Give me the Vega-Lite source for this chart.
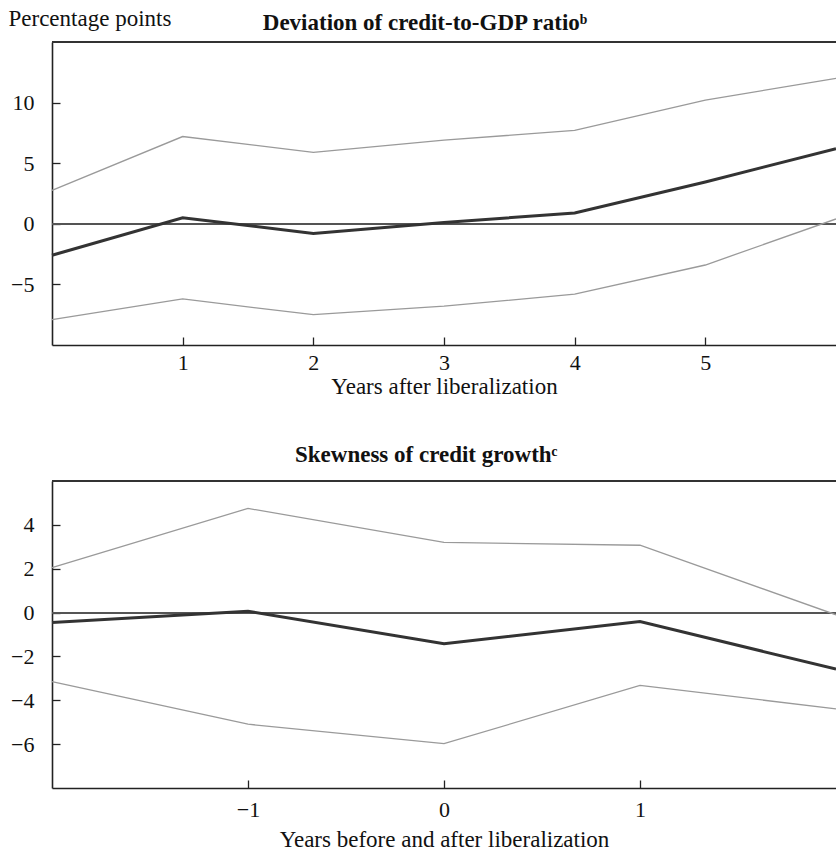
{
  "$schema": "https://vega.github.io/schema/vega-lite/v6.json",
  "background": "white",
  "padding": {"left": 8, "top": 7, "right": 0, "bottom": 0},
  "spacing": 46,
  "config": {
    "font": "Liberation Serif",
    "view": {"stroke": null},
    "axis": {
      "grid": false,
      "domainColor": "#222",
      "domainWidth": 1.6,
      "tickColor": "#222",
      "tickWidth": 1.3,
      "tickSize": -8,
      "labelFont": "Liberation Serif",
      "labelFontSize": 22,
      "labelColor": "#111",
      "titleFont": "Liberation Serif",
      "titleFontSize": 23,
      "titleFontWeight": "normal",
      "titleColor": "#111"
    },
    "title": {"font": "Liberation Serif", "fontSize": 23, "fontWeight": "bold", "color": "#111", "offset": 20, "anchor": "middle", "frame": "bounds"}
  },
  "datasets": {
    "top": [
      {"x": 0, "series": "upper", "y": 2.75},
      {"x": 1, "series": "upper", "y": 7.2},
      {"x": 2, "series": "upper", "y": 5.9},
      {"x": 3, "series": "upper", "y": 6.9},
      {"x": 4, "series": "upper", "y": 7.7},
      {"x": 5, "series": "upper", "y": 10.2},
      {"x": 6, "series": "upper", "y": 12.0},
      {"x": 0, "series": "mean", "y": -2.6},
      {"x": 1, "series": "mean", "y": 0.5},
      {"x": 2, "series": "mean", "y": -0.8},
      {"x": 3, "series": "mean", "y": 0.1},
      {"x": 4, "series": "mean", "y": 0.9},
      {"x": 5, "series": "mean", "y": 3.45},
      {"x": 6, "series": "mean", "y": 6.2},
      {"x": 0, "series": "lower", "y": -7.9},
      {"x": 1, "series": "lower", "y": -6.2},
      {"x": 2, "series": "lower", "y": -7.5},
      {"x": 3, "series": "lower", "y": -6.8},
      {"x": 4, "series": "lower", "y": -5.8},
      {"x": 5, "series": "lower", "y": -3.4},
      {"x": 6, "series": "lower", "y": 0.4}
    ],
    "bottom": [
      {"x": -2, "series": "upper", "y": 2.05},
      {"x": -1, "series": "upper", "y": 4.75},
      {"x": 0, "series": "upper", "y": 3.2},
      {"x": 1, "series": "upper", "y": 3.07},
      {"x": 2, "series": "upper", "y": -0.1},
      {"x": -2, "series": "mean", "y": -0.45},
      {"x": -1, "series": "mean", "y": 0.06},
      {"x": 0, "series": "mean", "y": -1.42},
      {"x": 1, "series": "mean", "y": -0.41},
      {"x": 2, "series": "mean", "y": -2.58},
      {"x": -2, "series": "lower", "y": -3.15},
      {"x": -1, "series": "lower", "y": -5.09},
      {"x": 0, "series": "lower", "y": -5.98},
      {"x": 1, "series": "lower", "y": -3.32},
      {"x": 2, "series": "lower", "y": -4.39}
    ]
  },
  "vconcat": [
    {
      "width": 784,
      "height": 303,
      "title": {"text": "Deviation of credit-to-GDP ratioᵇ", "dy": 48},
      "data": {"name": "top"},
      "encoding": {
        "x": {"field": "x", "type": "quantitative", "scale": {"domain": [0, 6], "nice": false},
              "axis": {"values": [1, 2, 3, 4, 5], "title": "Years after liberalization", "labelPadding": 15, "titlePadding": 2}},
        "y": {"field": "y", "type": "quantitative", "scale": {"domain": [-10, 15], "nice": false},
              "axis": {"values": [-5, 0, 5, 10], "title": "Percentage points", "titleAngle": 0, "titleAlign": "left", "titleBaseline": "alphabetic", "titleX": -44, "titleY": -17, "labelPadding": 26}}
      },
      "layer": [
        {"mark": {"type": "rule", "color": "#555", "strokeWidth": 1.2}, "encoding": {"x": null, "y": {"datum": 0, "type": "quantitative"}}},
        {"transform": [{"filter": "datum.series !== 'mean'"}], "mark": {"type": "line", "color": "#9a9a9a", "strokeWidth": 1.3}, "encoding": {"detail": {"field": "series"}}},
        {"transform": [{"filter": "datum.series === 'mean'"}], "mark": {"type": "line", "color": "#333", "strokeWidth": 3}},
        {"mark": {"type": "rule", "color": "#333", "strokeWidth": 1.6}, "encoding": {"x": null, "y": {"datum": 15, "type": "quantitative"}}}
      ]
    },
    {
      "width": 784,
      "height": 307,
      "title": {"text": "Skewness of credit growthᶜ", "dy": 7},
      "data": {"name": "bottom"},
      "encoding": {
        "x": {"field": "x", "type": "quantitative", "scale": {"domain": [-2, 2], "nice": false},
              "axis": {"values": [-1, 0, 1], "title": "Years before and after liberalization", "labelPadding": 19, "titlePadding": 8}},
        "y": {"field": "y", "type": "quantitative", "scale": {"domain": [-8, 6], "nice": false},
              "axis": {"values": [-6, -4, -2, 0, 2, 4], "title": null, "labelPadding": 26}}
      },
      "layer": [
        {"mark": {"type": "rule", "color": "#555", "strokeWidth": 1.2}, "encoding": {"x": null, "y": {"datum": 0, "type": "quantitative"}}},
        {"transform": [{"filter": "datum.series !== 'mean'"}], "mark": {"type": "line", "color": "#9a9a9a", "strokeWidth": 1.3}, "encoding": {"detail": {"field": "series"}}},
        {"transform": [{"filter": "datum.series === 'mean'"}], "mark": {"type": "line", "color": "#333", "strokeWidth": 3}},
        {"mark": {"type": "rule", "color": "#333", "strokeWidth": 1.6}, "encoding": {"x": null, "y": {"datum": 6, "type": "quantitative"}}}
      ]
    }
  ]
}
